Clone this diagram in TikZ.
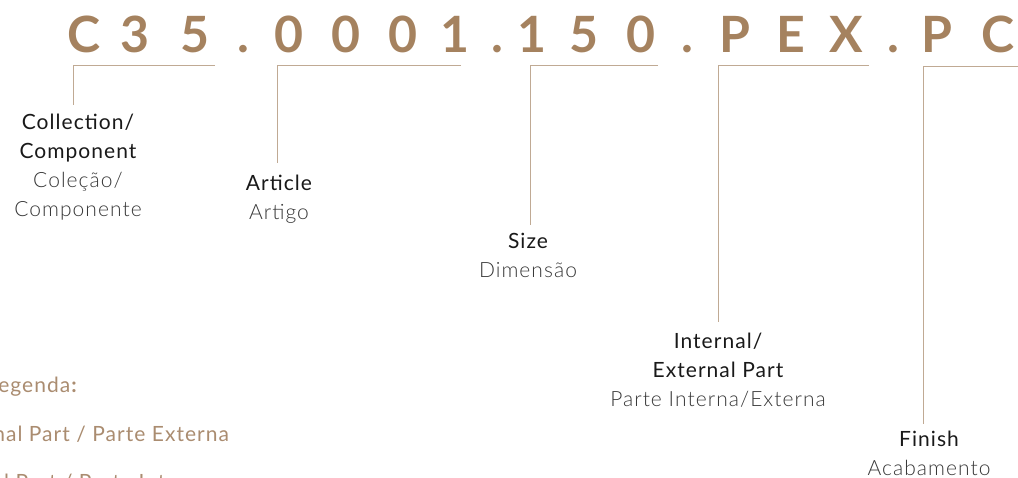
\documentclass[tikz,border=0pt]{standalone}
\usepackage{fontspec}
\setmainfont{Lato}
\newfontfamily\labfont{Lato}[LetterSpace=5]
\newfontfamily\lightfont{Lato Light}[LetterSpace=5]
\usepackage{tikz}
\usetikzlibrary{positioning,calc}
\definecolor{codetan}{RGB}{165,130,95}
\definecolor{legtan}{RGB}{170,140,112}
\definecolor{linetan}{RGB}{192,170,148}
\definecolor{engtext}{RGB}{25,25,25}
\definecolor{pttext}{RGB}{55,55,55}
\tikzset{ % code letters, brackets and labels
    codechar/.style={anchor=base, inner sep=0, text=codetan, font=\fontsize{50}{50}\selectfont\bfseries},
    bracket/.style={draw=linetan, line width=1pt},
    label/.style={anchor=north, inner sep=0, align=center, font=\labfont\fontsize{21}{29}\selectfont, text=engtext},
    legend/.style={anchor=base west, inner sep=0, text=legtan, font=\labfont\fontsize{21}{21}\selectfont}
}
\newcommand{\pt}[1]{{\lightfont\color{pttext}#1}}

\begin{document}
\begin{tikzpicture}[x=1pt, y=-1pt]
	\useasboundingbox (0,0) rectangle (1018,477);
	\clip (0,0) rectangle (1018,477);
	%Code
	\foreach \cx/\ch [count=\i] in {84/C,135/3,195/5,243/.,289/0,346/0,403/0,455/1,497/.,532/1,584/5,641/0,687/.,735/P,791/E,846/X,893/.,937/P,998/C}
		\node[codechar] (ch\i) at (\cx,52) {\ch};
	%Labels
	\node[label] (coll) at (78,114) {Collection/\\Component\\\pt{Coleção/}\\\pt{Componente}};
	\node[label] (art) at (279,175) {Article\\\pt{Artigo}};
	\node[label] (size) at (528,233) {Size\\\pt{Dimensão}};
	\node[label] (part) at (718,333) {Internal/\\External Part\\\pt{Parte Interna/Externa}};
	\node[label] (fin) at (929,431) {Finish\\\pt{Acabamento}};
	%Brackets
	\coordinate (collr) at (215,65);
	\coordinate (colle) at (73,105);
	\coordinate (artr) at (461,65);
	\coordinate (arte) at (277,163);
	\coordinate (sizer) at (658,65);
	\coordinate (sizee) at (530,225);
	\coordinate (partr) at (869,65);
	\coordinate (parte) at (718,322);
	\coordinate (finr) at (1020,66);
	\coordinate (fine) at (923,424);
	\draw[bracket] (collr) -| (colle);
	\draw[bracket] (artr) -| (arte);
	\draw[bracket] (sizer) -| (sizee);
	\draw[bracket] (partr) -| (parte);
	\draw[bracket] (finr) -| (fine);
	%Legend
	\node[legend] (leg1) at (-13,392) {Legenda\textbf{:}};
	\node[legend] (leg2) at (-61,441) {External Part / Parte Externa};
	\node[legend] (leg3) at (-69,489) {Internal Part / Parte Interna};
\end{tikzpicture}
\end{document}
